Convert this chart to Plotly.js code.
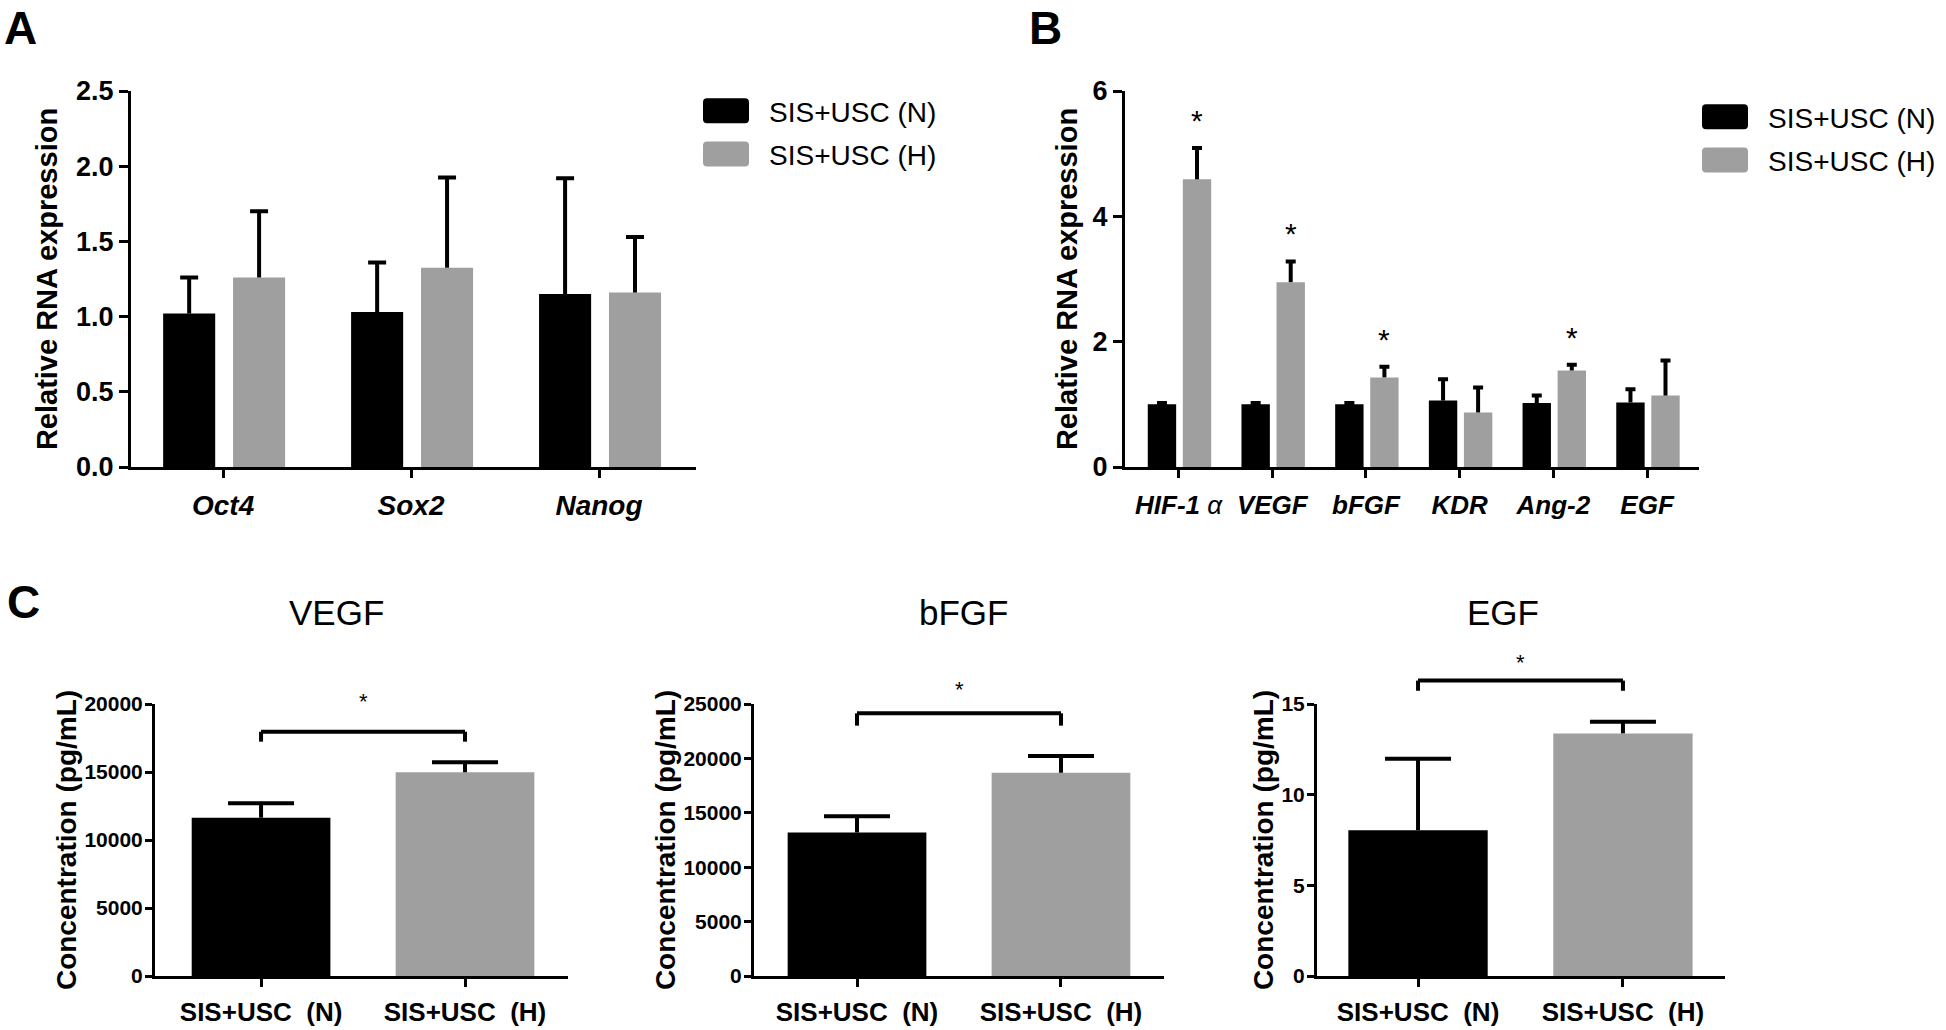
<!DOCTYPE html>
<html><head><meta charset="utf-8">
<script src="https://cdn.plot.ly/plotly-3.0.1.min.js"></script>
<style>html,body{margin:0;padding:0;background:#fff;} #chart{width:1946px;height:1030px;}</style>
</head><body><div id="chart"></div>
<script>
// ---------- Data ----------
// Panel A: stemness genes
const genesA = ['Oct4', 'Sox2', 'Nanog'];
const aN = [1.02, 1.03, 1.15];
const aNerr = [0.24, 0.33, 0.77];
const aH = [1.26, 1.325, 1.16];
const aHerr = [0.44, 0.60, 0.37];

// Panel B: angiogenic genes
const genesB = ['HIF-1α', 'VEGF', 'bFGF', 'KDR', 'Ang-2', 'EGF'];
const genesBLabels = ['HIF-1 <span style="font-weight:normal">α</span>', 'VEGF', 'bFGF', 'KDR', 'Ang-2', 'EGF'];
const bN = [1.00, 1.00, 1.00, 1.06, 1.02, 1.03];
const bNerr = [0.02, 0.02, 0.02, 0.34, 0.12, 0.21];
const bH = [4.59, 2.95, 1.43, 0.87, 1.54, 1.14];
const bHerr = [0.50, 0.33, 0.17, 0.40, 0.09, 0.56];
const bSig = [true, true, true, false, true, false];

// Panel C: secreted factors (pg/mL)
const groupsC = ['SIS+USC (N)', 'SIS+USC (H)'];
const groupsCLabels = ['SIS+USC\u00a0\u00a0(N)', 'SIS+USC\u00a0\u00a0(H)'];
const vegfC = [11640, 14980];
const vegfErr = [1060, 730];
const bfgfC = [13190, 18680];
const bfgfErr = [1500, 1530];
const egfC = [8.04, 13.38];
const egfErr = [3.94, 0.64];
const seriesNames = ['SIS+USC (N)', 'SIS+USC (H)'];

// ---------- Style ----------
const W = 1946, H = 1030;
const px = v => v / W, py = v => 1 - v / H;
const BLACK = '#000000', GREY = '#9f9f9f';
const FONT = 'Liberation Sans, Arial, Helvetica, sans-serif';
const zeros = n => new Array(n).fill(0);
const addArr = (a, b) => a.map((v, i) => v + b[i]);

// Bar with an upward-only error stem, plus a transparent twin bar whose
// zero-length error bar draws the cap at the top of the stem only.
function barWithErr(opts) {
  const {x, y, err, color, width, offset, cap, xa, ya, name, legend, group, showlegend} = opts;
  const main = {type: 'bar', x: x, y: y, name: name, marker: {color: color, line: {width: 0}},
    width: width, xaxis: xa, yaxis: ya, showlegend: !!showlegend,
    error_y: {type: 'data', array: err, arrayminus: zeros(err.length), symmetric: false,
              color: BLACK, thickness: 4, width: 0}};
  const capT = {type: 'bar', x: x, y: addArr(y, err), marker: {color: 'rgba(0,0,0,0)', line: {width: 0}},
    width: width, xaxis: xa, yaxis: ya, showlegend: false, hoverinfo: 'skip',
    error_y: {type: 'data', array: zeros(err.length), symmetric: true, color: BLACK, thickness: 4, width: cap}};
  if (offset !== undefined) { main.offset = offset; capT.offset = offset; }
  if (legend) { main.legend = legend; main.legendgroup = group; }
  return [main, capT];
}

const traces = [].concat(
  barWithErr({x: genesA, y: aN, err: aNerr, color: BLACK, width: 0.277, offset: -0.319, cap: 9,
              xa: 'x', ya: 'y', name: seriesNames[0], legend: 'legend', group: 'a1', showlegend: true}),
  barWithErr({x: genesA, y: aH, err: aHerr, color: GREY, width: 0.277, offset: 0.053, cap: 9,
              xa: 'x', ya: 'y', name: seriesNames[1], legend: 'legend', group: 'a2', showlegend: true}),
  barWithErr({x: genesB, y: bN, err: bNerr, color: BLACK, width: 0.303, offset: -0.329, cap: 5,
              xa: 'x2', ya: 'y2', name: seriesNames[0], legend: 'legend2', group: 'b1', showlegend: true}),
  barWithErr({x: genesB, y: bH, err: bHerr, color: GREY, width: 0.303, offset: 0.045, cap: 5,
              xa: 'x2', ya: 'y2', name: seriesNames[1], legend: 'legend2', group: 'b2', showlegend: true}),
  barWithErr({x: groupsC, y: vegfC, err: vegfErr, color: [BLACK, GREY], width: 0.68, cap: 33,
              xa: 'x3', ya: 'y3', name: 'VEGF'}),
  barWithErr({x: groupsC, y: bfgfC, err: bfgfErr, color: [BLACK, GREY], width: 0.68, cap: 33,
              xa: 'x4', ya: 'y4', name: 'bFGF'}),
  barWithErr({x: groupsC, y: egfC, err: egfErr, color: [BLACK, GREY], width: 0.68, cap: 33,
              xa: 'x5', ya: 'y5', name: 'EGF'})
);

const axBase = {showline: true, linecolor: BLACK, linewidth: 3, ticks: 'outside', tickcolor: BLACK,
  tickwidth: 3, ticklen: 9, showgrid: false, zeroline: false, fixedrange: true};

function xAx(domain, range, anchor, tickfont, standoff, extra) {
  return Object.assign({}, axBase, {type: 'category', domain: domain, range: range, anchor: anchor,
    tickfont: tickfont, ticklen: 8, ticklabelstandoff: standoff}, extra || {});
}
function yAx(domain, range, dtick, fmt, anchor, title, titleSize, standoff, tickSize, extra) {
  return Object.assign({}, axBase, {domain: domain, range: range, dtick: dtick, tick0: 0, tickformat: fmt,
    anchor: anchor,
    tickfont: {family: FONT, size: tickSize, weight: 'bold', color: BLACK},
    title: {text: title, standoff: standoff, font: {family: FONT, size: titleSize, weight: 'bold', color: BLACK}}},
    extra || {});
}

const tfAB = {family: FONT, size: 28, weight: 'bold', style: 'italic', color: BLACK};
const tfB = {family: FONT, size: 26, weight: 'bold', style: 'italic', color: BLACK};
const tfC = {family: FONT, size: 26, weight: 'bold', color: BLACK};

const yTopAB = [py(467), py(91)];
const yC = [py(976), py(704)];
const cYExtra = {ticklen: 7, ticklabelstandoff: -2};

const layout = {
  width: W, height: H, margin: {l: 0, r: 0, t: 0, b: 0},
  paper_bgcolor: '#ffffff', plot_bgcolor: '#ffffff',
  barmode: 'overlay', showlegend: true,
  font: {family: FONT, color: BLACK},
  xaxis: xAx([px(131), px(696)], [-0.49, 2.516], 'y', tfAB, 3),
  yaxis: yAx(yTopAB, [0, 2.5], 0.5, '.1f', 'x', 'Relative RNA expression', 29, 10, 27),
  xaxis2: xAx([px(1125), px(1699)], [-0.572, 5.554], 'y2', tfB, 5,
              {tickmode: 'array', tickvals: genesB, ticktext: genesBLabels}),
  yaxis2: yAx(yTopAB, [0, 6], 2, 'd', 'x2', 'Relative RNA expression', 29, 7, 27),
  xaxis3: xAx([px(155), px(568)], [-0.52, 1.505], 'y3', tfC, 3,
              {tickmode: 'array', tickvals: groupsC, ticktext: groupsCLabels}),
  yaxis3: yAx(yC, [0, 20000], 5000, 'd', 'x3', 'Concentration (pg/mL)', 28, 0, 21, cYExtra),
  xaxis4: xAx([px(754), px(1164)], [-0.505, 1.505], 'y4', tfC, 3,
              {tickmode: 'array', tickvals: groupsC, ticktext: groupsCLabels}),
  yaxis4: yAx(yC, [0, 25000], 5000, 'd', 'x4', 'Concentration (pg/mL)', 28, 0, 21, cYExtra),
  xaxis5: xAx([px(1317), px(1725)], [-0.493, 1.498], 'y5', tfC, 3,
              {tickmode: 'array', tickvals: groupsC, ticktext: groupsCLabels}),
  yaxis5: yAx(yC, [0, 15], 5, 'd', 'x5', 'Concentration (pg/mL)', 28, 0, 21, cYExtra),
  legend: {x: px(683), xanchor: 'left', y: py(86), yanchor: 'top', bgcolor: 'rgba(0,0,0,0)',
           font: {family: FONT, size: 28, color: BLACK}, itemwidth: 76, tracegroupgap: 4,
           traceorder: 'grouped'},
  legend2: {x: px(1682), xanchor: 'left', y: py(92), yanchor: 'top', bgcolor: 'rgba(0,0,0,0)',
            font: {family: FONT, size: 28, color: BLACK}, itemwidth: 76, tracegroupgap: 4,
            traceorder: 'grouped'},
  shapes: [],
  annotations: []
};

// Panel letters and C titles
const panelLetters = [['A', 20], ['B', 1045], ['C', 23]];
const letterTop = {A: 0, B: 0, C: 574};
panelLetters.forEach(([t, x]) => layout.annotations.push({text: t, x: px(x), y: py(letterTop[t]), xref: 'paper', yref: 'paper',
  showarrow: false, xanchor: 'center', yanchor: 'top', font: {family: FONT, size: 46, weight: 'bold', color: BLACK}}));
const cTitles = [['VEGF', 336], ['bFGF', 963], ['EGF', 1503]];
cTitles.forEach(([t, x]) => layout.annotations.push({text: t, x: px(x), y: py(612), xref: 'paper', yref: 'paper',
  showarrow: false, xanchor: 'center', yanchor: 'middle', font: {family: FONT, size: 35, color: BLACK}}));

// Significance stars in B (above grey bars)
bSig.forEach((s, i) => {
  if (!s) return;
  layout.annotations.push({text: '*', x: i + 0.045 + 0.303 / 2, y: bH[i] + bHerr[i] + 0.44, xref: 'x2', yref: 'y2',
    showarrow: false, xanchor: 'center', yanchor: 'middle', font: {family: FONT, size: 30, color: BLACK}});
});

// Brackets and stars in C (heights in data units, placed relative to axis top so they may sit above it)
const bracketC = [
  {ax: 'x3', ay: 'y3', ymax: 20000, top: 17960, leg: 17230, star: 20150},
  {ax: 'x4', ay: 'y4', ymax: 25000, top: 24140, leg: 23010, star: 26290},
  {ax: 'x5', ay: 'y5', ymax: 15, top: 16.29, leg: 15.73, star: 17.3}
];
bracketC.forEach(b => {
  const ln = {color: BLACK, width: 4};
  const yr = b.ay + ' domain';
  const t = b.top / b.ymax, l = b.leg / b.ymax;
  layout.shapes.push({type: 'line', xref: b.ax, yref: yr, x0: 0, x1: 1, y0: t, y1: t, line: ln});
  layout.shapes.push({type: 'line', xref: b.ax, yref: yr, x0: 0, x1: 0, y0: l, y1: t, line: ln});
  layout.shapes.push({type: 'line', xref: b.ax, yref: yr, x0: 1, x1: 1, y0: l, y1: t, line: ln});
  layout.annotations.push({text: '*', x: 0.5, y: b.star / b.ymax, xref: b.ax, yref: yr, showarrow: false,
    xanchor: 'center', yanchor: 'middle', font: {family: FONT, size: 22, color: BLACK}});
});

const SWATCH = 'M-19,-12.5H19A4,4 0 0 1 23,-8.5V8.5A4,4 0 0 1 19,12.5H-19A4,4 0 0 1 -23,8.5V-8.5A4,4 0 0 1 -19,-12.5Z';
function fixSwatches() {
  document.querySelectorAll('g.legendpoints path').forEach(p => p.setAttribute('d', SWATCH));
}
Plotly.newPlot('chart', traces, layout, {staticPlot: true, displayModeBar: false}).then(gd => {
  fixSwatches();
  gd.on('plotly_afterplot', fixSwatches);
  setTimeout(fixSwatches, 50);
});
</script>
</body></html>
